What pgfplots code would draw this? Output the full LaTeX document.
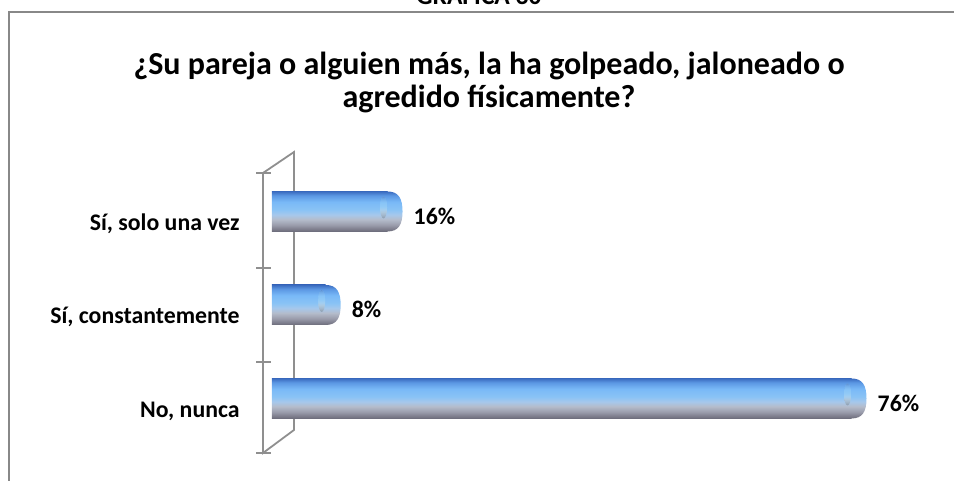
\documentclass[border=0pt]{standalone}
\usepackage{fontspec}
\setmainfont{Carlito}
\usepackage{pgfplots}
\pgfplotsset{compat=1.18}

\definecolor{wallgray}{RGB}{143,143,143}
\definecolor{framegray}{RGB}{136,136,136}
\definecolor{bA}{RGB}{108,108,122}
\definecolor{bB}{RGB}{125,125,140}
\definecolor{bC}{RGB}{154,156,171}
\definecolor{bD}{RGB}{180,188,203}
\definecolor{bE}{RGB}{166,200,236}
\definecolor{bF}{RGB}{138,195,245}
\definecolor{bG}{RGB}{121,185,247}
\definecolor{bH}{RGB}{91,151,227}
\definecolor{bI}{RGB}{59,108,192}

% cylinder look: colours from bottom (25bp) to top (75bp)
\pgfdeclareverticalshading{barshade}{100bp}{%
  color(0bp)=(bA); color(25bp)=(bA); color(28bp)=(bB); color(33bp)=(bC);
  color(40bp)=(bD); color(46bp)=(bE); color(52bp)=(bF); color(62bp)=(bG);
  color(70bp)=(bH); color(75bp)=(bI); color(100bp)=(bI)}

% rounded end of each bar, sits on the data point
\pgfdeclareplotmark{cap}{%
  \shade[shading=barshade] (-2pt,20pt) -- (0pt,20pt)
    .. controls (11pt,20pt) and (15pt,13pt) .. (15pt,0pt)
    .. controls (15pt,-13pt) and (11pt,-20pt) .. (0pt,-20pt)
    -- (-2pt,-20pt) -- cycle;
  \fill[cyan!30!white, opacity=0.55] (-4pt,4pt) ellipse (3.5pt and 11pt);
}

\newcommand\lbl{\fontsize{23.8}{28}\selectfont\bfseries}
\newcommand\ttl{\fontsize{32}{33}\selectfont\bfseries}

\pgfplotsset{
  mybar/.style={
    xbar, bar width=40pt, bar shift=0pt,
    draw=none, shade, shading=barshade,
    mark=cap, point meta=x,
    nodes near coords={\pgfmathprintnumber[assume math mode=true]{\pgfplotspointmeta}\%},
    nodes near coords style={font=\lbl, text=black, anchor=base west, inner sep=0pt, xshift=26pt, yshift=-13pt},
  },
}

\begin{document}
\begin{tikzpicture}[x=1pt,y=1pt]
\useasboundingbox (0,0) rectangle (954,481);

% chart frame and heading
\draw[framegray, line width=1.5] (9,-10) -- (9,469) -- (990,469);
\node[anchor=base, font=\fontsize{25.5}{30}\selectfont\bfseries] at (479,476.3) {GRÁFICA 30};
\node[font=\ttl, align=center] at (489,399)
  {¿Su pareja o alguien más, la ha golpeado, jaloneado o\\agredido físicamente?};

% 3d walls
\draw[wallgray, line width=1.8] (263,28) -- (263,308) -- (294,329) -- (294,51) -- cycle;
\foreach \t in {308,213,119,28}
  \draw[wallgray, line width=1.8] (256,\t) -- (271,\t);

\begin{axis}[
  at={(351.5,38.25)}, anchor=south west,
  scale only axis,
  width=657.03pt, height=280.5pt,
  xmin=1.0345, xmax=86,
  ymin=-0.5, ymax=2.5,
  axis line style={draw=none},
  tick style={draw=none},
  xtick=\empty,
  ytick={0,1,2},
  yticklabels={{No, nunca},{Sí, constantemente},{Sí, solo una vez}},
  yticklabel style={font=\lbl, anchor=base east, inner sep=0pt, xshift=-32pt, yshift=-19pt},
]
\addplot[mybar] coordinates {(76,0)};
\addplot[mybar] coordinates {(8,1)};
\addplot[mybar] coordinates {(16,2)};
\end{axis}
\end{tikzpicture}
\end{document}
